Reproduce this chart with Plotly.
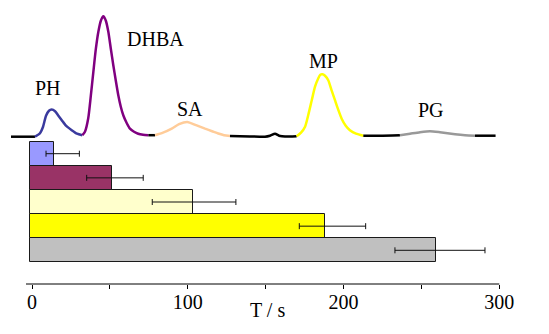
import plotly.graph_objects as go

# ---- bar data (retention time end, s) ----
compounds = ["PH", "DHBA", "SA", "MP", "PG"]
bar_end = [14.3, 51.5, 103.5, 188.0, 259.1]
err_plus = [16.1, 19.9, 27.4, 26.2, 31.7]
err_minus = [5.3, 16.4, 26.3, 16.4, 26.1]
bar_colors = ["#9999FF", "#993366", "#FFFFCC", "#FFFF00", "#C0C0C0"]

# ---- chromatogram segments (time s, signal a.u.) ----
base1_t = [-13.5, 1.9]
base1_s = [0, 0]
ph_t = [1.9, 5.1, 7.1, 9.0, 10.9, 12.6, 14.8, 16.7, 19.1, 21.8, 25.5, 28.9, 32.3]
ph_s = [0, 3.5, 10, 21, 26, 27.2, 25.5, 21.5, 16.5, 11, 6.5, 3, 1.5]
dhba_t = [32.3, 34.0, 36.1, 37.7, 39.4, 41.0, 42.6, 44.2, 45.8, 47.4, 49.0, 50.6,
          52.2, 53.8, 55.4, 57.0, 58.6, 60.7, 62.9, 65.5, 68.2, 71.3, 74.7]
dhba_s = [1.5, 5, 18.5, 40, 65, 88, 105, 116, 120.5, 116, 105, 88,
          71.5, 56, 41.5, 30, 21.5, 14, 8, 5, 3, 2, 1.5]
base2_t = [74.7, 79.0]
base2_s = [1.5, 1.5]
sa_t = [79.0, 84.1, 89.7, 94.4, 99.7, 105.3, 111.1, 115.6, 119.6, 123.3, 127.1]
sa_s = [1.5, 4, 8, 12.5, 14.8, 11.5, 8, 5.5, 3.2, 1.5, 0.8]
base3_t = [127.1, 139.9, 149.6, 152.8, 156.0, 158.6, 160.5, 165.6, 169.9]
base3_s = [0.8, 0.3, 0, 1, 3, 1, 0.5, 0.3, 0.5]
mp_t = [169.9, 172.7, 175.3, 177.4, 179.6, 181.7, 183.8, 185.1, 186.4, 188.1, 190.2,
        192.4, 194.5, 196.6, 198.8, 201.4, 204.1, 208.0, 212.7]
mp_s = [0.5, 4, 10, 22, 36.5, 50, 58.5, 62, 62.5, 61, 56.5,
        46, 36.5, 27, 18, 11, 6.5, 3, 1]
base4_t = [212.7, 223.4, 236.2]
base4_s = [1, 1, 1.5]
pg_t = [236.2, 242.7, 249.1, 255.5, 261.9, 271.6, 278.0, 284.4]
pg_s = [1.5, 3, 4.5, 5.5, 4.5, 2.5, 1.5, 1]
base5_t = [284.4, 297.6]
base5_s = [1, 1]

# peak label positions (time, signal)
label_text = ["PH", "DHBA", "SA", "MP", "PG"]
label_t = [10.1, 79.3, 101.4, 187.4, 256.1]
label_s = [49.2, 98.2, 28.2, 75.8, 26.5]

x_ticks = [0, 100, 200, 300]

BASE = -1.3
SERIF = "Liberation Serif"

fig = go.Figure()

# bars
for name, end, ep, em, col in zip(compounds, bar_end, err_plus, err_minus, bar_colors):
    fig.add_trace(go.Bar(
        y=[name], x=[end - BASE], base=BASE, orientation="h",
        marker=dict(color=col, line=dict(color="#1a1a1a", width=1)),
        error_x=dict(type="data", symmetric=False, array=[ep], arrayminus=[em],
                     color="#111111", thickness=1, width=3),
        showlegend=False, hoverinfo="skip",
    ))

segments = [
    (base1_t, base1_s, "#000000"),
    (ph_t, ph_s, "#3A3A9E"),
    (dhba_t, dhba_s, "#800080"),
    (base2_t, base2_s, "#000000"),
    (sa_t, sa_s, "#FFCC99"),
    (base3_t, base3_s, "#000000"),
    (mp_t, mp_s, "#FFFF00"),
    (base4_t, base4_s, "#000000"),
    (pg_t, pg_s, "#999999"),
    (base5_t, base5_s, "#000000"),
]
for t, s, col in segments:
    fig.add_trace(go.Scatter(
        x=t, y=s, yaxis="y2", mode="lines",
        line=dict(color=col, width=2.5, shape="spline", smoothing=0.6),
        showlegend=False, hoverinfo="skip",
    ))

for txt, t, s in zip(label_text, label_t, label_s):
    fig.add_annotation(x=t, y=s, yref="y2", text=txt, showarrow=False,
                       font=dict(family=SERIF, size=20, color="black"))

# x axis line (from slightly left of 0 up to 300)
fig.add_shape(type="line", xref="x", yref="paper", x0=-3.85, x1=x_ticks[-1], y0=0, y1=0,
              line=dict(color="black", width=1))

fig.add_annotation(x=151.5, xref="x", y=-0.049, yref="paper", yanchor="top",
                   text="T / s", showarrow=False,
                   font=dict(family=SERIF, size=20, color="black"))

fig.update_layout(
    width=549, height=334,
    margin=dict(l=8, r=47, t=10, b=50),
    paper_bgcolor="white", plot_bgcolor="white",
    barmode="overlay", bargap=0,
    font=dict(family=SERIF),
    xaxis=dict(range=[-15.41, 301.73], tickvals=x_ticks, ticks="outside", ticklen=4,
               tickcolor="black", showline=False, showgrid=False, zeroline=False,
               tickfont=dict(family=SERIF, size=20, color="black"),
               ticklabelstandoff=-4,
               minor=dict(tickvals=[50, 150, 250], ticks="outside", ticklen=4,
                          tickcolor="black", showgrid=False)),
    yaxis=dict(type="category", categoryorder="array",
               categoryarray=list(reversed(compounds)),
               range=[-1.395, 9.95], visible=False, showgrid=False),
    yaxis2=dict(overlaying="y", range=[-147.3, 126.7], visible=False, showgrid=False),
)

fig.write_html("out.html")
